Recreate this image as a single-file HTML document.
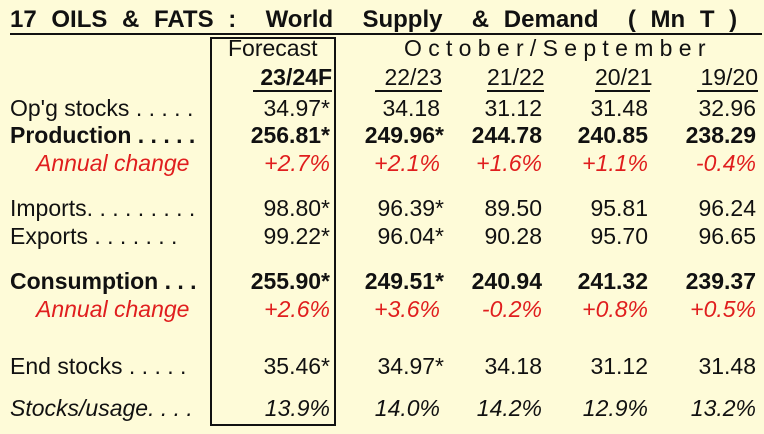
<!DOCTYPE html>
<html><head><meta charset="utf-8"><style>
body{margin:0;width:764px;height:434px;background:#fefbd8;overflow:hidden;font-family:"Liberation Sans",sans-serif;position:relative}
.t{position:absolute;font-size:23px;line-height:26px;white-space:nowrap;color:#111}
.r{text-align:right}
.b{font-weight:bold}
.i{font-style:italic}
.red{color:#e01e1e}
.u{border-bottom:2px solid #111}
</style></head><body>
<div class="t b" style="left:10px;top:6px;font-size:24px;word-spacing:8px;width:752px;border-bottom:2px solid #111;line-height:27px">17 OILS &amp; FATS :&nbsp; World&nbsp; Supply&nbsp; &amp; Demand&nbsp; ( Mn T )</div>
<div style="position:absolute;left:210px;top:37px;width:122px;height:385px;border:2px solid #111"></div>
<div class="t" style="left:228px;top:35px">Forecast</div>
<div class="t" style="left:404px;top:35px;letter-spacing:6.3px">October/September</div>
<div id="tbl"></div>
<script>
const rowLabels=["Op'g stocks . . . . .","Production . . . . .","Annual change","Imports. . . . . . . . .","Exports  . . . . . . .","Consumption . . .","Annual change","End stocks  . . . . .","Stocks/usage. . . ."];
const rowTops=[95,122,150,195,223,268,296,353,395];
const rowStyle=["","b","i red","","","b","i red","","i"];
const years=["23/24F","22/23","21/22","20/21","19/20"];
const colRight=[330,440,542,648,756];
const ulLeft=[253,375,487,595,697];
const vals=[
["34.97*","34.18","31.12","31.48","32.96"],
["256.81*","249.96*","244.78","240.85","238.29"],
["+2.7%","+2.1%","+1.6%","+1.1%","-0.4%"],
["98.80*","96.39*","89.50","95.81","96.24"],
["99.22*","96.04*","90.28","95.70","96.65"],
["255.90*","249.51*","240.94","241.32","239.37"],
["+2.6%","+3.6%","-0.2%","+0.8%","+0.5%"],
["35.46*","34.97*","34.18","31.12","31.48"],
["13.9%","14.0%","14.2%","12.9%","13.2%"]];
const root=document.getElementById('tbl');
function mk(cls,txt,l,t,w){const d=document.createElement('div');d.className='t '+cls;d.textContent=txt;d.style.left=l+'px';d.style.top=t+'px';if(w){d.style.width=w+'px';}root.appendChild(d);return d;}
years.forEach((y,j)=>{const w=colRight[j]-ulLeft[j]+2;const d=mk('r u'+(j==0?' b':''),y,ulLeft[j],64,w);

});
rowLabels.forEach((lab,i)=>{const st=rowStyle[i];const ind=st.includes('red')?36:10;
const d=mk(st,lab,ind,rowTops[i]);


vals[i].forEach((v,j)=>{const star=v.endsWith('*');const rr=colRight[j]+(star&&j>0?4:0);
const c=mk('r '+st,v,rr-150,rowTops[i],150);

});});
</script>
</body></html>
